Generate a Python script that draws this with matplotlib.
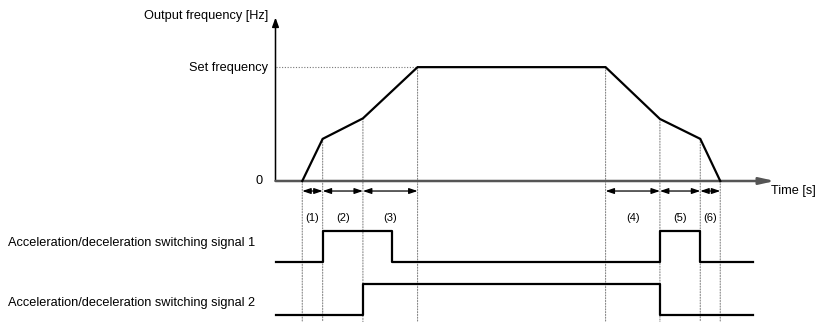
import matplotlib
matplotlib.use("Agg")
import matplotlib.pyplot as plt

plt.rcParams['font.family'] = ['Liberation Sans', 'DejaVu Sans']

# ---- data ----
# breakpoints of output-frequency profile (time units, frequency % of set frequency)
curve_t = [1.34, 2.36, 4.375, 7.11, 16.52, 19.24, 21.26, 22.26]
curve_f = [0, 37, 55, 100, 100, 54.5, 37, 0]
interval_labels = ["(1)", "(2)", "(3)", "(4)", "(5)", "(6)"]
# interval index pairs (start breakpoint, end breakpoint)
interval_idx = [(0, 1), (1, 2), (2, 3), (4, 5), (5, 6), (6, 7)]

sig1_t = [0, 2.36, 5.81, 19.24, 21.26, 23.9]
sig1_v = [0, 1, 0, 1, 0, 0]
sig2_t = [0, 4.375, 19.24, 23.9]
sig2_v = [0, 1, 0, 0]

y_label = "Output frequency [Hz]"
x_label = "Time [s]"
set_label = "Set frequency"
zero_label = "0"
sig1_label = "Acceleration/deceleration switching signal 1"
sig2_label = "Acceleration/deceleration switching signal 2"

# ---- layout (pixels) ----
W, H = 817, 322
fig = plt.figure(figsize=(W / 100, H / 100), dpi=100)

x0_px, x1_px = 275.5, 775.0
t_max = 25.0

def add_ax(ytop_px, ybot_px):
    return fig.add_axes([x0_px / W, 1 - ybot_px / H,
                         (x1_px - x0_px) / W, (ybot_px - ytop_px) / H])

ax = add_ax(17.5, 181)          # main frequency axes
f_max = 143.6
ax.set_xlim(0, t_max)
ax.set_ylim(0, f_max)
ax1 = add_ax(231, 262)          # signal 1
ax2 = add_ax(284, 315)          # signal 2
for a in (ax, ax1, ax2):
    a.set_xlim(0, t_max)
    a.axis('off')
ax1.set_ylim(0, 1)
ax2.set_ylim(0, 1)

fs = 9.2
# axes arrows
ax.annotate("", xy=(0, f_max), xytext=(0, 0),
            arrowprops=dict(arrowstyle='-|>,head_length=0.55,head_width=0.2',
                            color='black', lw=1.1, shrinkA=0, shrinkB=0))
ax.annotate("", xy=(t_max, 0), xytext=(0, 0),
            arrowprops=dict(arrowstyle='-|>,head_length=0.9,head_width=0.2',
                            color='#555555', lw=1.8, shrinkA=0, shrinkB=0))

# curve
ax.plot(curve_t, curve_f, color='black', lw=1.6, solid_joinstyle='miter',
        clip_on=False, zorder=3)

# set frequency dotted line
ax.plot([0, curve_t[3]], [100, 100], color='#777777', lw=0.8,
        linestyle=(0, (1, 1.5)), clip_on=False)

# vertical dotted lines from breakpoints to figure bottom
for t, f in zip(curve_t, curve_f):
    ax.annotate("", xy=(t, 0), xycoords=('data', 'figure fraction'),
                xytext=(t, f), textcoords='data',
                arrowprops=dict(arrowstyle='-', color='#888888', lw=0.8,
                                linestyle=(0, (1, 1.5)), shrinkA=0, shrinkB=0),
                zorder=1)

# interval double arrows and labels
for lab, (i, j) in zip(interval_labels, interval_idx):
    ta, tb = curve_t[i], curve_t[j]
    ax.annotate("", xy=(tb, -8.8), xytext=(ta, -8.8),
                arrowprops=dict(arrowstyle='<|-|>,head_length=0.5,head_width=0.17',
                                color='black', lw=0.9, shrinkA=0, shrinkB=0),
                annotation_clip=False)
    ax.text((ta + tb) / 2, -32.3, lab, ha='center', va='center', fontsize=8.0,
            clip_on=False)

# signals
ax1.step(sig1_t, sig1_v, where='post', color='black', lw=1.6, clip_on=False)
ax2.step(sig2_t, sig2_v, where='post', color='black', lw=1.6, clip_on=False)

# texts
fig.text(268 / W, 1 - 15.5 / H, y_label, ha='right', va='center', fontsize=fs)
fig.text(268 / W, 1 - 67.5 / H, set_label, ha='right', va='center', fontsize=fs)
fig.text(263 / W, 1 - 181 / H, zero_label, ha='right', va='center', fontsize=fs)
fig.text(771 / W, 1 - 191 / H, x_label, ha='left', va='center', fontsize=fs)
fig.text(8 / W, 1 - 243 / H, sig1_label, ha='left', va='center', fontsize=fs)
fig.text(8 / W, 1 - 303 / H, sig2_label, ha='left', va='center', fontsize=fs)

fig.savefig("out.png", dpi=100)
